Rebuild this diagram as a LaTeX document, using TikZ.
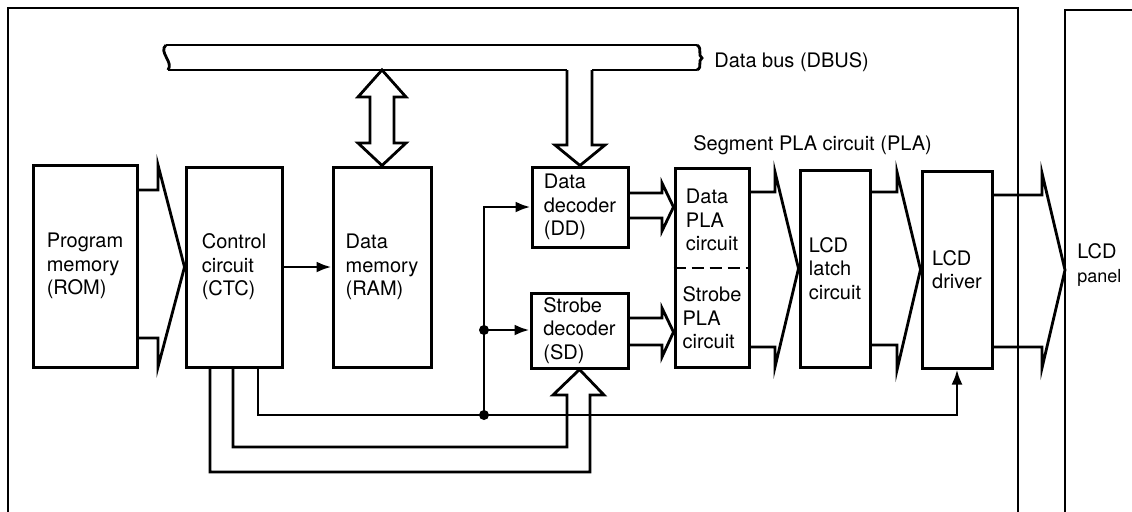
\documentclass[tikz,border=0pt]{standalone}
\usepackage{fontspec}
\setmainfont{TeX Gyre Heros}
\usetikzlibrary{arrows.meta}
\newcommand\lblfont{\fontsize{10}{11.75}\selectfont}
\begin{document}
\begin{tikzpicture}[x=0.5pt,y=-0.5pt,line width=1.4pt,
  blk/.style={draw,line width=1.5pt,inner sep=0pt,align=left,font=\lblfont},
  txt/.style={inner sep=0pt,align=left,font=\lblfont},
  sig/.style={-{Latex[length=7.5pt,width=5.5pt]}},
  jdot/.style={circle,fill,inner sep=0pt,minimum size=5pt}]
\useasboundingbox (0,0) rectangle (1132,511);
\begin{scope}
\clip (0,0) rectangle (1132,511);
% outer frame and LCD panel outline
\draw (8,530) -- (8,8) -- (1018,8) -- (1018,530);
\draw (1065,530) -- (1065,10) -- (1150,10);
\end{scope}

% blocks
\node[blk,minimum width=52pt,minimum height=101pt] (rom) at (85,266) {Program\\memory\\(ROM)};
\node[blk,minimum width=48pt,minimum height=100pt] (ctc) at (234,267) {Control\\circuit\\(CTC)};
\node[blk,minimum width=49pt,minimum height=100pt] (ram) at (382,267) {Data\\memory\\(RAM)};
\node[blk,minimum width=48pt,minimum height=40pt] (dd) at (580,207) {Data\\decoder\\(DD)};
\node[blk,minimum width=48.5pt,minimum height=37.5pt] (sd) at (579.5,330.5) {Strobe\\decoder\\(SD)};
\node[blk,minimum width=37pt,minimum height=99.5pt] (pla) at (712,267.5) {};
\node[txt] (dpla) at (712,220) {Data\\PLA\\circuit};
\node[txt] (spla) at (712,318) {Strobe\\PLA\\circuit};
\draw[line width=1.2pt,dash pattern=on 6pt off 3pt] (pla.west |- 0,268) -- (pla.east |- 0,268);
\node[blk,minimum width=35pt,minimum height=98.5pt] (latch) at (835,268.5) {LCD\\latch\\circuit};
\node[blk,minimum width=35pt,minimum height=98.5pt] (driver) at (957,269.5) {LCD\\driver};
\node[txt,anchor=west] (panel) at (1076,265) {LCD\\{\fontsize{9}{11}\selectfont panel}};

% labels
\node[txt,anchor=base west] (buslbl) at (713,67) {Data bus (DBUS)};
\node[txt,anchor=base west] (plalbl) at (692,150) {Segment PLA circuit (PLA)};

% data bus
\draw (166,45) -- (697,45);
\draw (166,45) .. controls (158,52) and (174,62) .. (168,70);
\draw (697,45) .. controls (703,49) and (697,55) .. (702,58) .. controls (697,61) and (703,67) .. (697,70);
\draw (168,70) -- (567,70);
\draw (592,70) -- (697,70);

% bus <-> RAM
\draw (382,70) -- (406,97) -- (394,97) -- (394,143) -- (406,143) -- (ram.north) -- (358,143) -- (370,143) -- (370,97) -- (358,97) -- cycle;
% bus -> DD
\draw (567,70) -- (567,145) -- (555,145) -- (dd.north) -- (605,145) -- (592,145) -- (592,70);

% wide arrows
\draw (rom.east |- 0,190) -- (158,190) -- (158,165) -- (ctc.west) -- (158,367) -- (158,338) -- (rom.east |- 0,338);
\draw (dd.east |- 0,193) -- (662,193) -- (662,183) -- (pla.west |- dd.east) -- (662,231) -- (662,218) -- (dd.east |- 0,218);
\draw (sd.east |- 0,318) -- (662,318) -- (662,308) -- (pla.west |- 0,332) -- (662,357) -- (662,345) -- (sd.east |- 0,345);
\draw (pla.east |- 0,192) -- (775,192) -- (775,172) -- (latch.west) -- (775,367) -- (775,347) -- (pla.east |- 0,347);
\draw (latch.east |- 0,192) -- (897,192) -- (897,172) -- (driver.west) -- (897,370) -- (897,345) -- (latch.east |- 0,345);
\coordinate (ptip) at (1065,270);
\draw (driver.east |- 0,195) -- (1042,195) -- (1042,173) -- (ptip) -- (1042,368) -- (1042,347) -- (driver.east |- 0,347);

% control signals
\draw[sig] (ctc.east) -- (ram.west);
\coordinate (j1) at (484,415);
\coordinate (j2) at (484,330);
\draw[sig] (ctc.south -| 258,0) -- (258,415) -- (driver.south |- 0,415) -- (driver.south);
\draw[sig] (j1) |- (dd.west);
\draw[sig] (j2) -- (j2 -| sd.west);
\node[jdot] (d1) at (j1) {};
\node[jdot] (d2) at (j2) {};
\draw (ctc.south -| 233,0) -- (233,447) -- (567,447) -- (567,395) -- (553,395) -- (sd.south) -- (604,395) -- (590,395) -- (590,472) -- (210,472) -- (ctc.south -| 210,0);
\end{tikzpicture}
\end{document}
